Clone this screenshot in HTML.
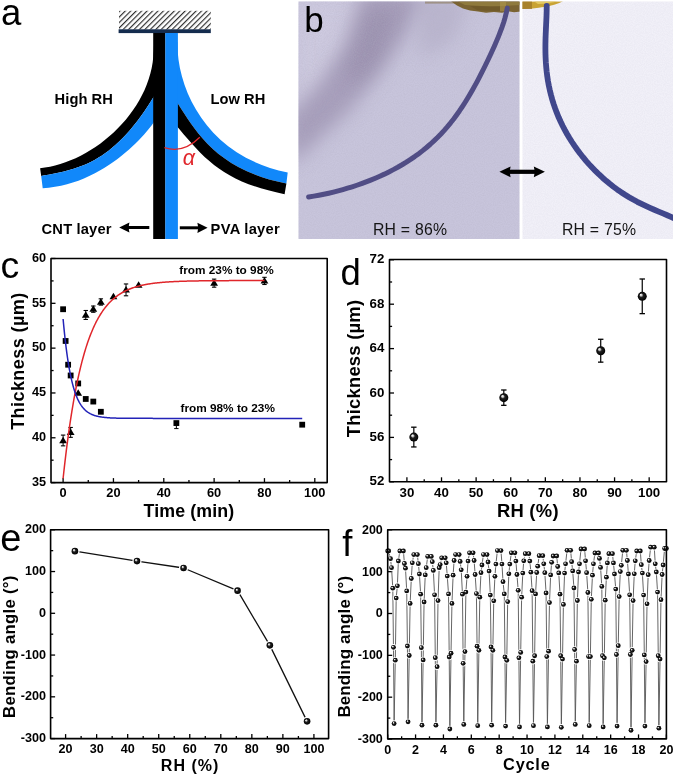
<!DOCTYPE html><html><head><meta charset="utf-8"><style>html,body{margin:0;padding:0;background:#fff;}body{width:675px;height:776px;overflow:hidden;position:relative;}svg{position:absolute;left:0;top:0;}text{font-family:"Liberation Sans", sans-serif;}svg{will-change:transform;}</style></head><body>
<svg width="675" height="776" viewBox="0 0 675 776">
<defs><radialGradient id="sph" cx="0.5" cy="0.5" r="0.5" fx="0.32" fy="0.3"><stop offset="0" stop-color="#ffffff"/><stop offset="0.22" stop-color="#c8c8c8"/><stop offset="0.45" stop-color="#202020"/><stop offset="1" stop-color="#000"/></radialGradient><pattern id="hatch" width="3.85" height="3.85" patternUnits="userSpaceOnUse" patternTransform="translate(119,11) rotate(45)"><line x1="0.6" y1="0" x2="0.6" y2="3.85" stroke="#2a2a2a" stroke-width="1.15"/></pattern><filter id="blur6" x="-50%" y="-50%" width="200%" height="200%"><feGaussianBlur stdDeviation="9"/></filter><filter id="blur1" x="-10%" y="-10%" width="120%" height="120%"><feGaussianBlur stdDeviation="0.6"/></filter><filter id="blur2" x="-50%" y="-50%" width="200%" height="200%"><feGaussianBlur stdDeviation="2"/></filter><clipPath id="clipL"><rect x="298.5" y="1.5" width="221" height="237.5"/></clipPath><clipPath id="clipR"><rect x="522.5" y="1.5" width="150.5" height="237.5"/></clipPath><clipPath id="clipC"><rect x="51" y="258.5" width="276" height="224"/></clipPath></defs>
<text x="1" y="24.6" font-size="36.5" font-weight="normal" text-anchor="start" fill="#000" >a</text>
<rect x="119" y="10.8" width="91.8" height="18.8" fill="url(#hatch)"/>
<rect x="118.6" y="29.3" width="92.2" height="3.8" fill="#142c4e"/>
<path d="M153.6,45 C156.18,108.01 93.82,163.2 40.1,168.2 L41.2,176 C81.37,169.01 114.77,162.3 156,93 Z" fill="#000"/>
<path d="M156,93 C114.77,162.3 81.37,169.01 41.2,176 L42.7,188.2 C110.94,184.77 157.62,120.08 156,118 Z" fill="#1188fa"/>
<path d="M177.4,42 C176.76,91.15 209.13,157.08 287.7,172.4 L286.4,183.5 C211.68,168.66 193.6,126.12 175,99.5 L175,42 Z" fill="#1188fa"/>
<path d="M175,99.5 C193.6,126.12 211.68,168.66 286.4,183.5 L284.6,194.3 C221.91,181.41 204.34,158.77 175,124 Z" fill="#000"/>
<rect x="153.2" y="33" width="12.2" height="206" fill="#000"/>
<rect x="165.3" y="33" width="12.6" height="206" fill="#1188fa"/>
<path d="M164.4,147.6 Q183,154 199.8,137.3" fill="none" stroke="#e0262b" stroke-width="1.3"/>
<text x="182.8" y="165.2" font-size="21.5" font-weight="normal" text-anchor="start" fill="#e0262b" font-style="italic">&#945;</text>
<text x="54.6" y="103.5" font-size="14.7" font-weight="bold" text-anchor="start" fill="#000"  textLength="58.2" lengthAdjust="spacing">High RH</text>
<text x="210.4" y="103.5" font-size="14.7" font-weight="bold" text-anchor="start" fill="#000"  textLength="54.9" lengthAdjust="spacing">Low RH</text>
<text x="41.6" y="233.5" font-size="14.7" font-weight="bold" text-anchor="start" fill="#000"  textLength="69.9" lengthAdjust="spacing">CNT layer</text>
<text x="210.6" y="233.5" font-size="14.7" font-weight="bold" text-anchor="start" fill="#000"  textLength="69.1" lengthAdjust="spacing">PVA layer</text>
<line x1="127" y1="227.5" x2="149.3" y2="227.5" stroke="#000" stroke-width="3"/>
<polygon points="119.2,227.5 129.4,222.4 128.6,227.5 129.4,232.6" fill="#000"/>
<line x1="179.8" y1="227.8" x2="200" y2="227.8" stroke="#000" stroke-width="3"/>
<polygon points="207.6,227.8 197.4,222.7 198.2,227.8 197.4,232.9" fill="#000"/>
<filter id="grain" x="0" y="0" width="100%" height="100%"><feTurbulence type="fractalNoise" baseFrequency="0.9" numOctaves="2" seed="3" result="n"/><feColorMatrix in="n" type="matrix" values="0 0 0 0 0.45  0 0 0 0 0.43  0 0 0 0 0.55  0 0 0 0.5 -0.15"/></filter>
<filter id="fib" x="-20%" y="-20%" width="140%" height="140%"><feTurbulence type="fractalNoise" baseFrequency="0.8" numOctaves="1" seed="5" result="n"/><feDisplacementMap in="SourceGraphic" in2="n" scale="1.6" xChannelSelector="R" yChannelSelector="G" result="d"/><feGaussianBlur in="d" stdDeviation="0.45"/></filter>
<g clip-path="url(#clipL)">
<rect x="298" y="0" width="223" height="240" fill="#c8c5dc"/>
<path d="M298,0 L380,0 L355,50 L298,115 Z" fill="#d0cce1" opacity="0.7" filter="url(#blur6)"/>
<path d="M362,-8 L425,-8 L405,35 L378,75 L350,110 L318,140 L292,165 L286,120 L318,85 L345,45 Z" fill="#9a8fae" opacity="0.75" filter="url(#blur6)"/>
<path d="M368,10 L398,10 L380,60 L355,85 L345,70 Z" fill="#8f84a3" opacity="0.45" filter="url(#blur6)"/>
<path d="M415,-5 L470,-5 L455,40 L420,60 Z" fill="#b0aac4" opacity="0.6" filter="url(#blur6)"/>
<rect x="298" y="0" width="223" height="240" filter="url(#grain)"/>
<rect x="425" y="1.2" width="96" height="2.4" fill="#8c7a58" opacity="0.6" filter="url(#blur1)"/>
<path d="M451,1.2 L521,1.2 L521,11.5 L514,12.2 L508,11.2 L502,12.8 L494,12 L486,12.8 L478,11.6 L470,10.4 L463,8.6 L457,5.5 Z" fill="#7a6430" filter="url(#blur1)"/>
<path d="M458,1.5 L521,1.5 L521,5 L490,6.5 L465,5 Z" fill="#95803f" opacity="0.8" filter="url(#blur1)"/>
<path d="M470,6 L500,6.5 L500,11 L478,10.5 Z" fill="#6a5426" opacity="0.6" filter="url(#blur1)"/>
<rect x="500" y="1.2" width="6" height="10" fill="#b39a50" opacity="0.5" filter="url(#blur1)"/>
<path d="M507.24,8.13 L506.26,12.96 L505.05,17.72 L503.63,22.43 L502.05,27.09 L500.34,31.72 L498.53,36.33 L496.62,40.9 L494.65,45.46 L492.62,50 L490.54,54.53 L488.41,59.04 L486.25,63.53 L484.06,68.01 L481.83,72.46 L479.55,76.89 L477.24,81.29 L474.88,85.66 L472.47,90 L470,94.3 L467.47,98.55 L464.87,102.75 L462.19,106.89 L459.44,110.97 L456.59,114.99 L453.66,118.94 L450.63,122.82 L447.5,126.61 L444.26,130.32 L440.93,133.94 L437.48,137.48 L433.94,140.91 L430.29,144.25 L426.53,147.49 L422.68,150.63 L418.73,153.66 L414.69,156.59 L410.57,159.42 L406.36,162.13 L402.08,164.75 L397.74,167.25 L393.34,169.65 L388.88,171.94 L384.39,174.14 L379.85,176.23 L375.29,178.22 L370.7,180.12 L366.1,181.92 L361.48,183.63 L356.84,185.25 L352.2,186.78 L347.54,188.23 L342.86,189.6 L338.16,190.88 L333.43,192.09 L328.65,193.22 L323.81,194.27 L318.87,195.25 L313.83,196.16 L308.64,196.99" fill="none" stroke="#514e85" stroke-width="5" stroke-linecap="round" stroke-linejoin="round" filter="url(#blur1)"/>
</g>
<g clip-path="url(#clipR)">
<rect x="522" y="0" width="152" height="240" fill="#f1f0f8"/>
<rect x="522" y="0" width="152" height="240" filter="url(#grain)" opacity="0.35"/>
<path d="M522,1.2 L563,1.2 Q556,5 545,6.8 Q532,9 522,9 Z" fill="#c9a335" filter="url(#blur1)"/>
<path d="M522,1.2 L532,1.2 L532,9 L522,9 Z" fill="#a17a2a" opacity="0.8" filter="url(#blur1)"/>
<path d="M534,1.2 L558,1.2 Q550,3.5 538,4 Z" fill="#e3c862" filter="url(#blur1)"/>
<path d="M546.71,5.94 L546.65,10.8 L546.51,15.57 L546.32,20.27 L546.1,24.94 L545.89,29.6 L545.69,34.25 L545.53,38.91 L545.43,43.58 L545.4,48.26 L545.45,52.96 L545.6,57.67 L545.85,62.39 L546.21,67.11 L546.69,71.82 L547.29,76.52 L548.02,81.2 L548.89,85.85 L549.88,90.47 L551.01,95.06 L552.27,99.61 L553.67,104.1 L555.19,108.55 L556.85,112.94 L558.64,117.28 L560.56,121.56 L562.6,125.78 L564.76,129.93 L567.04,134.02 L569.43,138.05 L571.94,142.01 L574.55,145.91 L577.28,149.74 L580.1,153.5 L583.03,157.19 L586.05,160.81 L589.17,164.35 L592.38,167.82 L595.68,171.2 L599.07,174.49 L602.55,177.7 L606.11,180.81 L609.74,183.82 L613.46,186.73 L617.26,189.52 L621.13,192.21 L625.07,194.78 L629.07,197.23 L633.15,199.57 L637.28,201.79 L641.46,203.9 L645.69,205.92 L649.96,207.85 L654.26,209.72 L658.58,211.55 L662.91,213.37 L667.24,215.23 L671.54,217.18 L675.81,219.27 L680.01,221.59" fill="none" stroke="#41468c" stroke-width="5.8" stroke-linecap="round" stroke-linejoin="round" filter="url(#blur1)"/>
</g>
<text x="304.2" y="31.5" font-size="35" font-weight="normal" text-anchor="start" fill="#000" >b</text>
<text x="372.9" y="234.5" font-size="15.8" font-weight="normal" text-anchor="start" fill="#151515"  textLength="74.2" lengthAdjust="spacing">RH = 86%</text>
<text x="561.9" y="234.8" font-size="15.8" font-weight="normal" text-anchor="start" fill="#151515"  textLength="74.2" lengthAdjust="spacing">RH = 75%</text>
<line x1="508" y1="171.8" x2="536.5" y2="171.8" stroke="#000" stroke-width="4.2"/>
<polygon points="499.4,171.8 510.6,166.4 509.6,171.8 510.6,177.2" fill="#000"/>
<polygon points="544.9,171.8 533.8,166.4 534.8,171.8 533.8,177.2" fill="#000"/>
<text x="0.6" y="277.7" font-size="37.5" font-weight="normal" text-anchor="start" fill="#000" >c</text>
<line x1="63.1" y1="482.6" x2="63.1" y2="478.1" stroke="#000" stroke-width="1.3" />
<line x1="113.44" y1="482.6" x2="113.44" y2="478.1" stroke="#000" stroke-width="1.3" />
<line x1="163.78" y1="482.6" x2="163.78" y2="478.1" stroke="#000" stroke-width="1.3" />
<line x1="214.12" y1="482.6" x2="214.12" y2="478.1" stroke="#000" stroke-width="1.3" />
<line x1="264.46" y1="482.6" x2="264.46" y2="478.1" stroke="#000" stroke-width="1.3" />
<line x1="314.8" y1="482.6" x2="314.8" y2="478.1" stroke="#000" stroke-width="1.3" />
<line x1="88.27" y1="482.6" x2="88.27" y2="480" stroke="#000" stroke-width="1.3" />
<line x1="138.61" y1="482.6" x2="138.61" y2="480" stroke="#000" stroke-width="1.3" />
<line x1="188.95" y1="482.6" x2="188.95" y2="480" stroke="#000" stroke-width="1.3" />
<line x1="239.29" y1="482.6" x2="239.29" y2="480" stroke="#000" stroke-width="1.3" />
<line x1="289.63" y1="482.6" x2="289.63" y2="480" stroke="#000" stroke-width="1.3" />
<text x="63.1" y="496.9" font-size="12.8" font-weight="bold" text-anchor="middle" fill="#000" >0</text>
<text x="113.44" y="496.9" font-size="12.8" font-weight="bold" text-anchor="middle" fill="#000" >20</text>
<text x="163.78" y="496.9" font-size="12.8" font-weight="bold" text-anchor="middle" fill="#000" >40</text>
<text x="214.12" y="496.9" font-size="12.8" font-weight="bold" text-anchor="middle" fill="#000" >60</text>
<text x="264.46" y="496.9" font-size="12.8" font-weight="bold" text-anchor="middle" fill="#000" >80</text>
<text x="314.8" y="496.9" font-size="12.8" font-weight="bold" text-anchor="middle" fill="#000" >100</text>
<line x1="51" y1="482.6" x2="55.5" y2="482.6" stroke="#000" stroke-width="1.3" />
<line x1="51" y1="437.78" x2="55.5" y2="437.78" stroke="#000" stroke-width="1.3" />
<line x1="51" y1="392.96" x2="55.5" y2="392.96" stroke="#000" stroke-width="1.3" />
<line x1="51" y1="348.14" x2="55.5" y2="348.14" stroke="#000" stroke-width="1.3" />
<line x1="51" y1="303.32" x2="55.5" y2="303.32" stroke="#000" stroke-width="1.3" />
<line x1="51" y1="258.5" x2="55.5" y2="258.5" stroke="#000" stroke-width="1.3" />
<line x1="51" y1="460.19" x2="53.6" y2="460.19" stroke="#000" stroke-width="1.3" />
<line x1="51" y1="415.37" x2="53.6" y2="415.37" stroke="#000" stroke-width="1.3" />
<line x1="51" y1="370.55" x2="53.6" y2="370.55" stroke="#000" stroke-width="1.3" />
<line x1="51" y1="325.73" x2="53.6" y2="325.73" stroke="#000" stroke-width="1.3" />
<line x1="51" y1="280.91" x2="53.6" y2="280.91" stroke="#000" stroke-width="1.3" />
<text x="46" y="485.85" font-size="12.7" font-weight="bold" text-anchor="end" fill="#000" >35</text>
<text x="46" y="441.03" font-size="12.7" font-weight="bold" text-anchor="end" fill="#000" >40</text>
<text x="46" y="396.21" font-size="12.7" font-weight="bold" text-anchor="end" fill="#000" >45</text>
<text x="46" y="351.39" font-size="12.7" font-weight="bold" text-anchor="end" fill="#000" >50</text>
<text x="46" y="306.57" font-size="12.7" font-weight="bold" text-anchor="end" fill="#000" >55</text>
<text x="46" y="261.75" font-size="12.7" font-weight="bold" text-anchor="end" fill="#000" >60</text>
<line x1="176.37" y1="423.08" x2="176.37" y2="428.58" stroke="#000" stroke-width="1" />
<line x1="174.17" y1="428.58" x2="178.56" y2="428.58" stroke="#000" stroke-width="1" />
<line x1="63.1" y1="435.09" x2="63.1" y2="445.85" stroke="#000" stroke-width="1" />
<line x1="60.9" y1="445.85" x2="65.3" y2="445.85" stroke="#000" stroke-width="1.1" />
<line x1="60.9" y1="435.09" x2="65.3" y2="435.09" stroke="#000" stroke-width="1.1" />
<line x1="70.65" y1="427.47" x2="70.65" y2="437.33" stroke="#000" stroke-width="1" />
<line x1="68.45" y1="437.33" x2="72.85" y2="437.33" stroke="#000" stroke-width="1.1" />
<line x1="68.45" y1="427.47" x2="72.85" y2="427.47" stroke="#000" stroke-width="1.1" />
<line x1="85.75" y1="310.49" x2="85.75" y2="319.46" stroke="#000" stroke-width="1" />
<line x1="83.55" y1="319.46" x2="87.95" y2="319.46" stroke="#000" stroke-width="1.1" />
<line x1="83.55" y1="310.49" x2="87.95" y2="310.49" stroke="#000" stroke-width="1.1" />
<line x1="93.3" y1="306.01" x2="93.3" y2="312.28" stroke="#000" stroke-width="1" />
<line x1="91.1" y1="312.28" x2="95.5" y2="312.28" stroke="#000" stroke-width="1.1" />
<line x1="91.1" y1="306.01" x2="95.5" y2="306.01" stroke="#000" stroke-width="1.1" />
<line x1="100.85" y1="298.84" x2="100.85" y2="305.11" stroke="#000" stroke-width="1" />
<line x1="98.65" y1="305.11" x2="103.05" y2="305.11" stroke="#000" stroke-width="1.1" />
<line x1="98.65" y1="298.84" x2="103.05" y2="298.84" stroke="#000" stroke-width="1.1" />
<line x1="126.03" y1="283.96" x2="126.03" y2="295.79" stroke="#000" stroke-width="1" />
<line x1="123.83" y1="295.79" x2="128.22" y2="295.79" stroke="#000" stroke-width="1.1" />
<line x1="123.83" y1="283.96" x2="128.22" y2="283.96" stroke="#000" stroke-width="1.1" />
<line x1="214.12" y1="279.12" x2="214.12" y2="287.18" stroke="#000" stroke-width="1" />
<line x1="211.92" y1="287.18" x2="216.32" y2="287.18" stroke="#000" stroke-width="1.1" />
<line x1="211.92" y1="279.12" x2="216.32" y2="279.12" stroke="#000" stroke-width="1.1" />
<line x1="264.46" y1="277.32" x2="264.46" y2="284.5" stroke="#000" stroke-width="1" />
<line x1="262.26" y1="284.5" x2="266.66" y2="284.5" stroke="#000" stroke-width="1.1" />
<line x1="262.26" y1="277.32" x2="266.66" y2="277.32" stroke="#000" stroke-width="1.1" />
<rect x="60.2" y="306.34" width="5.8" height="5.8" fill="#000"/>
<rect x="62.72" y="338.07" width="5.8" height="5.8" fill="#000"/>
<rect x="65.23" y="361.82" width="5.8" height="5.8" fill="#000"/>
<rect x="67.75" y="372.58" width="5.8" height="5.8" fill="#000"/>
<rect x="75.3" y="380.56" width="5.8" height="5.8" fill="#000"/>
<rect x="82.85" y="396.07" width="5.8" height="5.8" fill="#000"/>
<rect x="90.4" y="398.67" width="5.8" height="5.8" fill="#000"/>
<rect x="97.95" y="408.88" width="5.8" height="5.8" fill="#000"/>
<rect x="173.47" y="420.18" width="5.8" height="5.8" fill="#000"/>
<rect x="299.31" y="421.79" width="5.8" height="5.8" fill="#000"/>
<polygon points="63.1,436.67 59.2,443.17 67,443.17" fill="#000"/>
<polygon points="70.65,428.6 66.75,435.1 74.55,435.1" fill="#000"/>
<polygon points="78.2,389.16 74.3,395.66 82.1,395.66" fill="#000"/>
<polygon points="85.75,311.17 81.85,317.67 89.65,317.67" fill="#000"/>
<polygon points="93.3,305.35 89.4,311.85 97.2,311.85" fill="#000"/>
<polygon points="100.85,298.18 96.95,304.68 104.75,304.68" fill="#000"/>
<polygon points="113.44,292.8 109.54,299.3 117.34,299.3" fill="#000"/>
<polygon points="126.03,286.07 122.12,292.57 129.93,292.57" fill="#000"/>
<polygon points="138.61,281.14 134.71,287.64 142.51,287.64" fill="#000"/>
<polygon points="214.12,279.35 210.22,285.85 218.02,285.85" fill="#000"/>
<polygon points="264.46,277.11 260.56,283.61 268.36,283.61" fill="#000"/>
<g clip-path="url(#clipC)">
<polyline fill="none" stroke="#e0262b" stroke-width="1.5" stroke-linejoin="round"  points="63.1,478.54 63.73,472.73 64.36,467.1 64.99,461.63 65.62,456.32 66.25,451.17 66.88,446.17 67.5,441.31 68.13,436.6 68.76,432.02 69.39,427.58 70.02,423.27 70.65,419.09 71.28,415.03 71.91,411.08 72.54,407.26 73.17,403.54 73.8,399.94 74.43,396.44 75.06,393.04 75.69,389.74 76.31,386.54 76.94,383.43 77.57,380.42 78.2,377.49 78.83,374.65 79.46,371.89 80.09,369.21 80.72,366.61 81.35,364.09 81.98,361.64 82.61,359.26 83.24,356.95 83.87,354.71 84.49,352.54 85.12,350.43 85.75,348.38 86.38,346.39 87.01,344.46 87.64,342.59 88.27,340.77 88.9,339 89.53,337.29 90.16,335.63 90.79,334.01 91.42,332.44 92.05,330.92 92.67,329.45 93.3,328.01 93.93,326.62 94.56,325.27 95.19,323.96 95.82,322.69 96.45,321.45 97.08,320.25 97.71,319.09 98.34,317.96 98.97,316.86 99.6,315.8 100.23,314.76 100.85,313.76 101.48,312.79 102.11,311.84 102.74,310.92 103.37,310.03 104,309.17 104.63,308.33 105.26,307.52 105.89,306.72 106.52,305.96 107.15,305.21 107.78,304.49 108.41,303.79 109.04,303.11 109.66,302.44 110.29,301.8 110.92,301.18 111.55,300.57 112.18,299.99 112.81,299.42 113.44,298.86 114.07,298.33 114.7,297.81 115.33,297.3 115.96,296.81 116.59,296.33 117.22,295.87 117.84,295.42 118.47,294.98 119.1,294.56 119.73,294.15 120.36,293.75 120.99,293.36 121.62,292.99 122.25,292.62 122.88,292.27 123.51,291.93 124.14,291.59 124.77,291.27 125.4,290.95 126.03,290.65 126.65,290.35 127.28,290.07 127.91,289.79 128.54,289.52 129.17,289.25 129.8,289 130.43,288.75 131.06,288.51 131.69,288.28 132.32,288.05 132.95,287.83 133.58,287.62 134.21,287.41 134.83,287.21 135.46,287.01 136.09,286.82 136.72,286.64 137.35,286.46 137.98,286.29 138.61,286.12 139.24,285.95 139.87,285.8 140.5,285.64 141.13,285.49 141.76,285.35 142.39,285.21 143.01,285.07 143.64,284.94 144.27,284.81 144.9,284.68 145.53,284.56 146.16,284.44 146.79,284.33 147.42,284.22 148.05,284.11 148.68,284.01 149.31,283.91 149.94,283.81 150.57,283.71 151.19,283.62 151.82,283.53 152.45,283.44 153.08,283.36 153.71,283.27 154.34,283.19 154.97,283.12 155.6,283.04 156.23,282.97 156.86,282.9 157.49,282.83 158.12,282.76 158.75,282.7 159.38,282.63 160,282.57 160.63,282.51 161.26,282.46 161.89,282.4 162.52,282.34 163.15,282.29 163.78,282.24 164.41,282.19 165.04,282.14 165.67,282.1 166.3,282.05 166.93,282.01 167.56,281.96 168.18,281.92 168.81,281.88 169.44,281.84 170.07,281.8 170.7,281.77 171.33,281.73 171.96,281.7 172.59,281.66 173.22,281.63 173.85,281.6 174.48,281.57 175.11,281.54 175.74,281.51 176.37,281.48 176.99,281.45 177.62,281.43 178.25,281.4 178.88,281.38 179.51,281.35 180.14,281.33 180.77,281.31 181.4,281.28 182.03,281.26 182.66,281.24 183.29,281.22 183.92,281.2 184.55,281.18 185.17,281.16 185.8,281.14 186.43,281.13 187.06,281.11 187.69,281.09 188.32,281.08 188.95,281.06 189.58,281.05 190.21,281.03 190.84,281.02 191.47,281 192.1,280.99 192.73,280.98 193.35,280.96 193.98,280.95 194.61,280.94 195.24,280.93 195.87,280.92 196.5,280.91 197.13,280.9 197.76,280.89 198.39,280.88 199.02,280.87 199.65,280.86 200.28,280.85 200.91,280.84 201.53,280.83 202.16,280.82 202.79,280.81 203.42,280.81 204.05,280.8 204.68,280.79 205.31,280.78 205.94,280.78 206.57,280.77 207.2,280.76 207.83,280.76 208.46,280.75 209.09,280.75 209.72,280.74 210.34,280.73 210.97,280.73 211.6,280.72 212.23,280.72 212.86,280.71 213.49,280.71 214.12,280.7 214.75,280.7 215.38,280.69 216.01,280.69 216.64,280.69 217.27,280.68 217.9,280.68 218.52,280.67 219.15,280.67 219.78,280.67 220.41,280.66 221.04,280.66 221.67,280.66 222.3,280.65 222.93,280.65 223.56,280.65 224.19,280.64 224.82,280.64 225.45,280.64 226.08,280.64 226.7,280.63 227.33,280.63 227.96,280.63 228.59,280.63 229.22,280.62 229.85,280.62 230.48,280.62 231.11,280.62 231.74,280.61 232.37,280.61 233,280.61 233.63,280.61 234.26,280.61 234.89,280.6 235.51,280.6 236.14,280.6 236.77,280.6 237.4,280.6 238.03,280.6 238.66,280.6 239.29,280.59 239.92,280.59 240.55,280.59 241.18,280.59 241.81,280.59 242.44,280.59 243.07,280.59 243.69,280.58 244.32,280.58 244.95,280.58 245.58,280.58 246.21,280.58 246.84,280.58 247.47,280.58 248.1,280.58 248.73,280.58 249.36,280.58 249.99,280.57 250.62,280.57 251.25,280.57 251.88,280.57 252.5,280.57 253.13,280.57 253.76,280.57 254.39,280.57 255.02,280.57 255.65,280.57 256.28,280.57 256.91,280.57 257.54,280.57 258.17,280.57 258.8,280.57 259.43,280.56 260.06,280.56 260.68,280.56 261.31,280.56 261.94,280.56 262.57,280.56 263.2,280.56 263.83,280.56 264.46,280.56"/>
<polyline fill="none" stroke="#2323b8" stroke-width="1.5" stroke-linejoin="round"  points="63.1,319 63.73,325.78 64.36,332.1 64.99,337.98 65.62,343.46 66.25,348.57 66.88,353.34 67.5,357.77 68.13,361.91 68.76,365.76 69.39,369.35 70.02,372.69 70.65,375.81 71.28,378.71 71.91,381.42 72.54,383.94 73.17,386.29 73.8,388.48 74.43,390.52 75.06,392.42 75.69,394.19 76.31,395.84 76.94,397.38 77.57,398.81 78.2,400.14 78.83,401.39 79.46,402.55 80.09,403.63 80.72,404.63 81.35,405.57 81.98,406.44 82.61,407.26 83.24,408.02 83.87,408.72 84.49,409.38 85.12,410 85.75,410.57 86.38,411.1 87.01,411.6 87.64,412.06 88.27,412.49 88.9,412.89 89.53,413.27 90.16,413.62 90.79,413.94 91.42,414.24 92.05,414.53 92.67,414.79 93.3,415.03 93.93,415.26 94.56,415.47 95.19,415.67 95.82,415.86 96.45,416.03 97.08,416.19 97.71,416.34 98.34,416.48 98.97,416.61 99.6,416.73 100.23,416.84 100.85,416.95 101.48,417.04 102.11,417.13 102.74,417.22 103.37,417.3 104,417.37 104.63,417.44 105.26,417.51 105.89,417.56 106.52,417.62 107.15,417.67 107.78,417.72 108.41,417.77 109.04,417.81 109.66,417.85 110.29,417.88 110.92,417.92 111.55,417.95 112.18,417.98 112.81,418 113.44,418.03 114.07,418.05 114.7,418.08 115.33,418.1 115.96,418.12 116.59,418.13 117.22,418.15 117.84,418.17 118.47,418.18 119.1,418.19 119.73,418.21 120.36,418.22 120.99,418.23 121.62,418.24 122.25,418.25 122.88,418.26 123.51,418.27 124.14,418.27 124.77,418.28 125.4,418.29 126.03,418.29 126.65,418.3 127.28,418.31 127.91,418.31 128.54,418.32 129.17,418.32 129.8,418.32 130.43,418.33 131.06,418.33 131.69,418.33 132.32,418.34 132.95,418.34 133.58,418.34 134.21,418.35 134.83,418.35 135.46,418.35 136.09,418.35 136.72,418.35 137.35,418.36 137.98,418.36 138.61,418.36 139.24,418.36 139.87,418.36 140.5,418.36 141.13,418.36 141.76,418.36 142.39,418.37 143.01,418.37 143.64,418.37 144.27,418.37 144.9,418.37 145.53,418.37 146.16,418.37 146.79,418.37 147.42,418.37 148.05,418.37 148.68,418.37 149.31,418.37 149.94,418.37 150.57,418.37 151.19,418.37 151.82,418.37 152.45,418.37 153.08,418.38 153.71,418.38 154.34,418.38 154.97,418.38 155.6,418.38 156.23,418.38 156.86,418.38 157.49,418.38 158.12,418.38 158.75,418.38 159.38,418.38 160,418.38 160.63,418.38 161.26,418.38 161.89,418.38 162.52,418.38 163.15,418.38 163.78,418.38 164.41,418.38 165.04,418.38 165.67,418.38 166.3,418.38 166.93,418.38 167.56,418.38 168.18,418.38 168.81,418.38 169.44,418.38 170.07,418.38 170.7,418.38 171.33,418.38 171.96,418.38 172.59,418.38 173.22,418.38 173.85,418.38 174.48,418.38 175.11,418.38 175.74,418.38 176.37,418.38 176.99,418.38 177.62,418.38 178.25,418.38 178.88,418.38 179.51,418.38 180.14,418.38 180.77,418.38 181.4,418.38 182.03,418.38 182.66,418.38 183.29,418.38 183.92,418.38 184.55,418.38 185.17,418.38 185.8,418.38 186.43,418.38 187.06,418.38 187.69,418.38 188.32,418.38 188.95,418.38 189.58,418.38 190.21,418.38 190.84,418.38 191.47,418.38 192.1,418.38 192.73,418.38 193.35,418.38 193.98,418.38 194.61,418.38 195.24,418.38 195.87,418.38 196.5,418.38 197.13,418.38 197.76,418.38 198.39,418.38 199.02,418.38 199.65,418.38 200.28,418.38 200.91,418.38 201.53,418.38 202.16,418.38 202.79,418.38 203.42,418.38 204.05,418.38 204.68,418.38 205.31,418.38 205.94,418.38 206.57,418.38 207.2,418.38 207.83,418.38 208.46,418.38 209.09,418.38 209.72,418.38 210.34,418.38 210.97,418.38 211.6,418.38 212.23,418.38 212.86,418.38 213.49,418.38 214.12,418.38 214.75,418.38 215.38,418.38 216.01,418.38 216.64,418.38 217.27,418.38 217.9,418.38 218.52,418.38 219.15,418.38 219.78,418.38 220.41,418.38 221.04,418.38 221.67,418.38 222.3,418.38 222.93,418.38 223.56,418.38 224.19,418.38 224.82,418.38 225.45,418.38 226.08,418.38 226.7,418.38 227.33,418.38 227.96,418.38 228.59,418.38 229.22,418.38 229.85,418.38 230.48,418.38 231.11,418.38 231.74,418.38 232.37,418.38 233,418.38 233.63,418.38 234.26,418.38 234.89,418.38 235.51,418.38 236.14,418.38 236.77,418.38 237.4,418.38 238.03,418.38 238.66,418.38 239.29,418.38 239.92,418.38 240.55,418.38 241.18,418.38 241.81,418.38 242.44,418.38 243.07,418.38 243.69,418.38 244.32,418.38 244.95,418.38 245.58,418.38 246.21,418.38 246.84,418.38 247.47,418.38 248.1,418.38 248.73,418.38 249.36,418.38 249.99,418.38 250.62,418.38 251.25,418.38 251.88,418.38 252.5,418.38 253.13,418.38 253.76,418.38 254.39,418.38 255.02,418.38 255.65,418.38 256.28,418.38 256.91,418.38 257.54,418.38 258.17,418.38 258.8,418.38 259.43,418.38 260.06,418.38 260.68,418.38 261.31,418.38 261.94,418.38 262.57,418.38 263.2,418.38 263.83,418.38 264.46,418.38 265.09,418.38 265.72,418.38 266.35,418.38 266.98,418.38 267.61,418.38 268.24,418.38 268.86,418.38 269.49,418.38 270.12,418.38 270.75,418.38 271.38,418.38 272.01,418.38 272.64,418.38 273.27,418.38 273.9,418.38 274.53,418.38 275.16,418.38 275.79,418.38 276.42,418.38 277.05,418.38 277.67,418.38 278.3,418.38 278.93,418.38 279.56,418.38 280.19,418.38 280.82,418.38 281.45,418.38 282.08,418.38 282.71,418.38 283.34,418.38 283.97,418.38 284.6,418.38 285.23,418.38 285.85,418.38 286.48,418.38 287.11,418.38 287.74,418.38 288.37,418.38 289,418.38 289.63,418.38 290.26,418.38 290.89,418.38 291.52,418.38 292.15,418.38 292.78,418.38 293.41,418.38 294.03,418.38 294.66,418.38 295.29,418.38 295.92,418.38 296.55,418.38 297.18,418.38 297.81,418.38 298.44,418.38 299.07,418.38 299.7,418.38 300.33,418.38 300.96,418.38 301.59,418.38 302.21,418.38"/>
</g>
<rect x="51" y="258.5" width="276.2" height="224.1" fill="none" stroke="#000" stroke-width="1.6" stroke-linejoin="round"/>
<text x="179.3" y="274.4" font-size="11.8" font-weight="bold" text-anchor="start" fill="#000" >from 23% to 98%</text>
<text x="180.5" y="412.1" font-size="11.8" font-weight="bold" text-anchor="start" fill="#000" >from 98% to 23%</text>
<text x="143.5" y="516.6" font-size="17.8" font-weight="bold" text-anchor="start" fill="#000"  textLength="90.6" lengthAdjust="spacing">Time (min)</text>
<text transform="translate(23.9,429.8) rotate(-90)" x="0" y="0" font-size="18" font-weight="bold" textLength="137" lengthAdjust="spacing">Thickness (&#181;m)</text>
<text x="340.5" y="285.2" font-size="36.5" font-weight="normal" text-anchor="start" fill="#000" >d</text>
<line x1="406.91" y1="481.8" x2="406.91" y2="477.3" stroke="#000" stroke-width="1.3" />
<line x1="441.52" y1="481.8" x2="441.52" y2="477.3" stroke="#000" stroke-width="1.3" />
<line x1="476.12" y1="481.8" x2="476.12" y2="477.3" stroke="#000" stroke-width="1.3" />
<line x1="510.74" y1="481.8" x2="510.74" y2="477.3" stroke="#000" stroke-width="1.3" />
<line x1="545.35" y1="481.8" x2="545.35" y2="477.3" stroke="#000" stroke-width="1.3" />
<line x1="579.96" y1="481.8" x2="579.96" y2="477.3" stroke="#000" stroke-width="1.3" />
<line x1="614.57" y1="481.8" x2="614.57" y2="477.3" stroke="#000" stroke-width="1.3" />
<line x1="649.17" y1="481.8" x2="649.17" y2="477.3" stroke="#000" stroke-width="1.3" />
<line x1="424.21" y1="481.8" x2="424.21" y2="479.2" stroke="#000" stroke-width="1.3" />
<line x1="458.82" y1="481.8" x2="458.82" y2="479.2" stroke="#000" stroke-width="1.3" />
<line x1="493.43" y1="481.8" x2="493.43" y2="479.2" stroke="#000" stroke-width="1.3" />
<line x1="528.04" y1="481.8" x2="528.04" y2="479.2" stroke="#000" stroke-width="1.3" />
<line x1="562.65" y1="481.8" x2="562.65" y2="479.2" stroke="#000" stroke-width="1.3" />
<line x1="597.26" y1="481.8" x2="597.26" y2="479.2" stroke="#000" stroke-width="1.3" />
<line x1="631.87" y1="481.8" x2="631.87" y2="479.2" stroke="#000" stroke-width="1.3" />
<text x="406.91" y="497.3" font-size="13.3" font-weight="bold" text-anchor="middle" fill="#000" >30</text>
<text x="441.52" y="497.3" font-size="13.3" font-weight="bold" text-anchor="middle" fill="#000" >40</text>
<text x="476.12" y="497.3" font-size="13.3" font-weight="bold" text-anchor="middle" fill="#000" >50</text>
<text x="510.74" y="497.3" font-size="13.3" font-weight="bold" text-anchor="middle" fill="#000" >60</text>
<text x="545.35" y="497.3" font-size="13.3" font-weight="bold" text-anchor="middle" fill="#000" >70</text>
<text x="579.96" y="497.3" font-size="13.3" font-weight="bold" text-anchor="middle" fill="#000" >80</text>
<text x="614.57" y="497.3" font-size="13.3" font-weight="bold" text-anchor="middle" fill="#000" >90</text>
<text x="649.17" y="497.3" font-size="13.3" font-weight="bold" text-anchor="middle" fill="#000" >100</text>
<line x1="389.5" y1="481.8" x2="394" y2="481.8" stroke="#000" stroke-width="1.3" />
<line x1="389.5" y1="437.4" x2="394" y2="437.4" stroke="#000" stroke-width="1.3" />
<line x1="389.5" y1="393" x2="394" y2="393" stroke="#000" stroke-width="1.3" />
<line x1="389.5" y1="348.6" x2="394" y2="348.6" stroke="#000" stroke-width="1.3" />
<line x1="389.5" y1="304.2" x2="394" y2="304.2" stroke="#000" stroke-width="1.3" />
<line x1="389.5" y1="259.8" x2="394" y2="259.8" stroke="#000" stroke-width="1.3" />
<line x1="389.5" y1="459.6" x2="392.1" y2="459.6" stroke="#000" stroke-width="1.3" />
<line x1="389.5" y1="415.2" x2="392.1" y2="415.2" stroke="#000" stroke-width="1.3" />
<line x1="389.5" y1="370.8" x2="392.1" y2="370.8" stroke="#000" stroke-width="1.3" />
<line x1="389.5" y1="326.4" x2="392.1" y2="326.4" stroke="#000" stroke-width="1.3" />
<line x1="389.5" y1="282" x2="392.1" y2="282" stroke="#000" stroke-width="1.3" />
<text x="384.3" y="485.3" font-size="13.3" font-weight="bold" text-anchor="end" fill="#000" >52</text>
<text x="384.3" y="440.9" font-size="13.3" font-weight="bold" text-anchor="end" fill="#000" >56</text>
<text x="384.3" y="396.5" font-size="13.3" font-weight="bold" text-anchor="end" fill="#000" >60</text>
<text x="384.3" y="352.1" font-size="13.3" font-weight="bold" text-anchor="end" fill="#000" >64</text>
<text x="384.3" y="307.7" font-size="13.3" font-weight="bold" text-anchor="end" fill="#000" >68</text>
<text x="384.3" y="263.3" font-size="13.3" font-weight="bold" text-anchor="end" fill="#000" >72</text>
<line x1="413.83" y1="427.19" x2="413.83" y2="446.95" stroke="#000" stroke-width="1.2" />
<line x1="411.13" y1="427.19" x2="416.53" y2="427.19" stroke="#000" stroke-width="1.3" />
<line x1="411.13" y1="446.95" x2="416.53" y2="446.95" stroke="#000" stroke-width="1.3" />
<circle cx="413.83" cy="437.07" r="4.5" fill="url(#sph)"/>
<line x1="503.81" y1="390" x2="503.81" y2="405.32" stroke="#000" stroke-width="1.2" />
<line x1="501.11" y1="390" x2="506.51" y2="390" stroke="#000" stroke-width="1.3" />
<line x1="501.11" y1="405.32" x2="506.51" y2="405.32" stroke="#000" stroke-width="1.3" />
<circle cx="503.81" cy="397.66" r="4.5" fill="url(#sph)"/>
<line x1="600.72" y1="339.28" x2="600.72" y2="362.14" stroke="#000" stroke-width="1.2" />
<line x1="598.02" y1="339.28" x2="603.42" y2="339.28" stroke="#000" stroke-width="1.3" />
<line x1="598.02" y1="362.14" x2="603.42" y2="362.14" stroke="#000" stroke-width="1.3" />
<circle cx="600.72" cy="350.71" r="4.5" fill="url(#sph)"/>
<line x1="642.25" y1="279" x2="642.25" y2="313.64" stroke="#000" stroke-width="1.2" />
<line x1="639.55" y1="279" x2="644.95" y2="279" stroke="#000" stroke-width="1.3" />
<line x1="639.55" y1="313.64" x2="644.95" y2="313.64" stroke="#000" stroke-width="1.3" />
<circle cx="642.25" cy="296.32" r="4.5" fill="url(#sph)"/>
<rect x="389.5" y="259.5" width="277" height="222.3" fill="none" stroke="#000" stroke-width="1.6" stroke-linejoin="round"/>
<text x="496.9" y="516.7" font-size="18.4" font-weight="bold" text-anchor="start" fill="#000"  textLength="61.6" lengthAdjust="spacing">RH (%)</text>
<text transform="translate(359.8,437.3) rotate(-90)" x="0" y="0" font-size="18.4" font-weight="bold" textLength="137.4" lengthAdjust="spacing">Thickness (&#181;m)</text>
<text x="0.3" y="550.5" font-size="38" font-weight="normal" text-anchor="start" fill="#000" >e</text>
<line x1="65.6" y1="738.6" x2="65.6" y2="734.1" stroke="#000" stroke-width="1.3" />
<line x1="96.64" y1="738.6" x2="96.64" y2="734.1" stroke="#000" stroke-width="1.3" />
<line x1="127.68" y1="738.6" x2="127.68" y2="734.1" stroke="#000" stroke-width="1.3" />
<line x1="158.72" y1="738.6" x2="158.72" y2="734.1" stroke="#000" stroke-width="1.3" />
<line x1="189.76" y1="738.6" x2="189.76" y2="734.1" stroke="#000" stroke-width="1.3" />
<line x1="220.8" y1="738.6" x2="220.8" y2="734.1" stroke="#000" stroke-width="1.3" />
<line x1="251.84" y1="738.6" x2="251.84" y2="734.1" stroke="#000" stroke-width="1.3" />
<line x1="282.88" y1="738.6" x2="282.88" y2="734.1" stroke="#000" stroke-width="1.3" />
<line x1="313.92" y1="738.6" x2="313.92" y2="734.1" stroke="#000" stroke-width="1.3" />
<line x1="81.12" y1="738.6" x2="81.12" y2="736" stroke="#000" stroke-width="1.3" />
<line x1="112.16" y1="738.6" x2="112.16" y2="736" stroke="#000" stroke-width="1.3" />
<line x1="143.2" y1="738.6" x2="143.2" y2="736" stroke="#000" stroke-width="1.3" />
<line x1="174.24" y1="738.6" x2="174.24" y2="736" stroke="#000" stroke-width="1.3" />
<line x1="205.28" y1="738.6" x2="205.28" y2="736" stroke="#000" stroke-width="1.3" />
<line x1="236.32" y1="738.6" x2="236.32" y2="736" stroke="#000" stroke-width="1.3" />
<line x1="267.36" y1="738.6" x2="267.36" y2="736" stroke="#000" stroke-width="1.3" />
<line x1="298.4" y1="738.6" x2="298.4" y2="736" stroke="#000" stroke-width="1.3" />
<text x="65.6" y="753.3" font-size="12.6" font-weight="bold" text-anchor="middle" fill="#000" >20</text>
<text x="96.64" y="753.3" font-size="12.6" font-weight="bold" text-anchor="middle" fill="#000" >30</text>
<text x="127.68" y="753.3" font-size="12.6" font-weight="bold" text-anchor="middle" fill="#000" >40</text>
<text x="158.72" y="753.3" font-size="12.6" font-weight="bold" text-anchor="middle" fill="#000" >50</text>
<text x="189.76" y="753.3" font-size="12.6" font-weight="bold" text-anchor="middle" fill="#000" >60</text>
<text x="220.8" y="753.3" font-size="12.6" font-weight="bold" text-anchor="middle" fill="#000" >70</text>
<text x="251.84" y="753.3" font-size="12.6" font-weight="bold" text-anchor="middle" fill="#000" >80</text>
<text x="282.88" y="753.3" font-size="12.6" font-weight="bold" text-anchor="middle" fill="#000" >90</text>
<text x="313.92" y="753.3" font-size="12.6" font-weight="bold" text-anchor="middle" fill="#000" >100</text>
<line x1="50.6" y1="738.58" x2="55.1" y2="738.58" stroke="#000" stroke-width="1.3" />
<line x1="50.6" y1="696.82" x2="55.1" y2="696.82" stroke="#000" stroke-width="1.3" />
<line x1="50.6" y1="655.06" x2="55.1" y2="655.06" stroke="#000" stroke-width="1.3" />
<line x1="50.6" y1="613.3" x2="55.1" y2="613.3" stroke="#000" stroke-width="1.3" />
<line x1="50.6" y1="571.54" x2="55.1" y2="571.54" stroke="#000" stroke-width="1.3" />
<line x1="50.6" y1="529.78" x2="55.1" y2="529.78" stroke="#000" stroke-width="1.3" />
<line x1="50.6" y1="717.7" x2="53.2" y2="717.7" stroke="#000" stroke-width="1.3" />
<line x1="50.6" y1="675.94" x2="53.2" y2="675.94" stroke="#000" stroke-width="1.3" />
<line x1="50.6" y1="634.18" x2="53.2" y2="634.18" stroke="#000" stroke-width="1.3" />
<line x1="50.6" y1="592.42" x2="53.2" y2="592.42" stroke="#000" stroke-width="1.3" />
<line x1="50.6" y1="550.66" x2="53.2" y2="550.66" stroke="#000" stroke-width="1.3" />
<text x="46" y="742.08" font-size="12.6" font-weight="bold" text-anchor="end" fill="#000" >-300</text>
<text x="46" y="700.32" font-size="12.6" font-weight="bold" text-anchor="end" fill="#000" >-200</text>
<text x="46" y="658.56" font-size="12.6" font-weight="bold" text-anchor="end" fill="#000" >-100</text>
<text x="46" y="616.8" font-size="12.6" font-weight="bold" text-anchor="end" fill="#000" >0</text>
<text x="46" y="575.04" font-size="12.6" font-weight="bold" text-anchor="end" fill="#000" >100</text>
<text x="46" y="533.28" font-size="12.6" font-weight="bold" text-anchor="end" fill="#000" >200</text>
<polyline fill="none" stroke="#111" stroke-width="1.3" stroke-linejoin="round"  points="74.91,551.16 136.99,561.1 183.55,567.99 237.56,590.67 269.84,645.37 307.09,721.37"/>
<circle cx="74.91" cy="551.16" r="4.6" fill="#fff"/>
<circle cx="136.99" cy="561.1" r="4.6" fill="#fff"/>
<circle cx="183.55" cy="567.99" r="4.6" fill="#fff"/>
<circle cx="237.56" cy="590.67" r="4.6" fill="#fff"/>
<circle cx="269.84" cy="645.37" r="4.6" fill="#fff"/>
<circle cx="307.09" cy="721.37" r="4.6" fill="#fff"/>
<circle cx="74.91" cy="551.16" r="3.3" fill="url(#sph)"/>
<circle cx="136.99" cy="561.1" r="3.3" fill="url(#sph)"/>
<circle cx="183.55" cy="567.99" r="3.3" fill="url(#sph)"/>
<circle cx="237.56" cy="590.67" r="3.3" fill="url(#sph)"/>
<circle cx="269.84" cy="645.37" r="3.3" fill="url(#sph)"/>
<circle cx="307.09" cy="721.37" r="3.3" fill="url(#sph)"/>
<rect x="50.6" y="529.8" width="278" height="208.8" fill="none" stroke="#000" stroke-width="1.6" stroke-linejoin="round"/>
<text x="160.8" y="771" font-size="16" font-weight="bold" text-anchor="start" fill="#000"  textLength="57.6" lengthAdjust="spacing">RH (%)</text>
<text transform="translate(15,717.9) rotate(-90)" x="0" y="0" font-size="16.7" font-weight="bold" textLength="142.3" lengthAdjust="spacing">Bending angle (&#176;)</text>
<text x="342.3" y="556.1" font-size="36.5" font-weight="normal" text-anchor="start" fill="#000" >f</text>
<line x1="387.7" y1="738.9" x2="387.7" y2="734.4" stroke="#000" stroke-width="1.3" />
<line x1="415.57" y1="738.9" x2="415.57" y2="734.4" stroke="#000" stroke-width="1.3" />
<line x1="443.44" y1="738.9" x2="443.44" y2="734.4" stroke="#000" stroke-width="1.3" />
<line x1="471.31" y1="738.9" x2="471.31" y2="734.4" stroke="#000" stroke-width="1.3" />
<line x1="499.18" y1="738.9" x2="499.18" y2="734.4" stroke="#000" stroke-width="1.3" />
<line x1="527.05" y1="738.9" x2="527.05" y2="734.4" stroke="#000" stroke-width="1.3" />
<line x1="554.92" y1="738.9" x2="554.92" y2="734.4" stroke="#000" stroke-width="1.3" />
<line x1="582.79" y1="738.9" x2="582.79" y2="734.4" stroke="#000" stroke-width="1.3" />
<line x1="610.66" y1="738.9" x2="610.66" y2="734.4" stroke="#000" stroke-width="1.3" />
<line x1="638.53" y1="738.9" x2="638.53" y2="734.4" stroke="#000" stroke-width="1.3" />
<line x1="666.4" y1="738.9" x2="666.4" y2="734.4" stroke="#000" stroke-width="1.3" />
<line x1="401.63" y1="738.9" x2="401.63" y2="736.3" stroke="#000" stroke-width="1.3" />
<line x1="429.5" y1="738.9" x2="429.5" y2="736.3" stroke="#000" stroke-width="1.3" />
<line x1="457.38" y1="738.9" x2="457.38" y2="736.3" stroke="#000" stroke-width="1.3" />
<line x1="485.25" y1="738.9" x2="485.25" y2="736.3" stroke="#000" stroke-width="1.3" />
<line x1="513.12" y1="738.9" x2="513.12" y2="736.3" stroke="#000" stroke-width="1.3" />
<line x1="540.99" y1="738.9" x2="540.99" y2="736.3" stroke="#000" stroke-width="1.3" />
<line x1="568.86" y1="738.9" x2="568.86" y2="736.3" stroke="#000" stroke-width="1.3" />
<line x1="596.73" y1="738.9" x2="596.73" y2="736.3" stroke="#000" stroke-width="1.3" />
<line x1="624.6" y1="738.9" x2="624.6" y2="736.3" stroke="#000" stroke-width="1.3" />
<line x1="652.46" y1="738.9" x2="652.46" y2="736.3" stroke="#000" stroke-width="1.3" />
<text x="387.7" y="753.8" font-size="12.5" font-weight="bold" text-anchor="middle" fill="#000" >0</text>
<text x="415.57" y="753.8" font-size="12.5" font-weight="bold" text-anchor="middle" fill="#000" >2</text>
<text x="443.44" y="753.8" font-size="12.5" font-weight="bold" text-anchor="middle" fill="#000" >4</text>
<text x="471.31" y="753.8" font-size="12.5" font-weight="bold" text-anchor="middle" fill="#000" >6</text>
<text x="499.18" y="753.8" font-size="12.5" font-weight="bold" text-anchor="middle" fill="#000" >8</text>
<text x="527.05" y="753.8" font-size="12.5" font-weight="bold" text-anchor="middle" fill="#000" >10</text>
<text x="554.92" y="753.8" font-size="12.5" font-weight="bold" text-anchor="middle" fill="#000" >12</text>
<text x="582.79" y="753.8" font-size="12.5" font-weight="bold" text-anchor="middle" fill="#000" >14</text>
<text x="610.66" y="753.8" font-size="12.5" font-weight="bold" text-anchor="middle" fill="#000" >16</text>
<text x="638.53" y="753.8" font-size="12.5" font-weight="bold" text-anchor="middle" fill="#000" >18</text>
<text x="666.4" y="753.8" font-size="12.5" font-weight="bold" text-anchor="middle" fill="#000" >20</text>
<line x1="387.7" y1="739.02" x2="392.2" y2="739.02" stroke="#000" stroke-width="1.3" />
<line x1="387.7" y1="697.18" x2="392.2" y2="697.18" stroke="#000" stroke-width="1.3" />
<line x1="387.7" y1="655.34" x2="392.2" y2="655.34" stroke="#000" stroke-width="1.3" />
<line x1="387.7" y1="613.5" x2="392.2" y2="613.5" stroke="#000" stroke-width="1.3" />
<line x1="387.7" y1="571.66" x2="392.2" y2="571.66" stroke="#000" stroke-width="1.3" />
<line x1="387.7" y1="529.82" x2="392.2" y2="529.82" stroke="#000" stroke-width="1.3" />
<line x1="387.7" y1="718.1" x2="390.3" y2="718.1" stroke="#000" stroke-width="1.3" />
<line x1="387.7" y1="676.26" x2="390.3" y2="676.26" stroke="#000" stroke-width="1.3" />
<line x1="387.7" y1="634.42" x2="390.3" y2="634.42" stroke="#000" stroke-width="1.3" />
<line x1="387.7" y1="592.58" x2="390.3" y2="592.58" stroke="#000" stroke-width="1.3" />
<line x1="387.7" y1="550.74" x2="390.3" y2="550.74" stroke="#000" stroke-width="1.3" />
<text x="382.8" y="742.92" font-size="12.5" font-weight="bold" text-anchor="end" fill="#000" >-300</text>
<text x="382.8" y="701.08" font-size="12.5" font-weight="bold" text-anchor="end" fill="#000" >-200</text>
<text x="382.8" y="659.24" font-size="12.5" font-weight="bold" text-anchor="end" fill="#000" >-100</text>
<text x="382.8" y="617.4" font-size="12.5" font-weight="bold" text-anchor="end" fill="#000" >0</text>
<text x="382.8" y="575.56" font-size="12.5" font-weight="bold" text-anchor="end" fill="#000" >100</text>
<text x="382.8" y="533.72" font-size="12.5" font-weight="bold" text-anchor="end" fill="#000" >200</text>
<polyline fill="none" stroke="#555" stroke-width="0.9" stroke-linejoin="round"  points="387.7,550.99 388.68,550.99 390.49,558.69 391.53,567.69 392.79,588.19 393.48,647.31 394.11,723.54 395.29,660.19 396.2,598.1 397.38,585.8 398.36,560.99 399.85,550.99 403.42,550.99 404.42,563.5 405.47,568.19 406.72,590.91 407.42,646.01 408.05,721.87 409.23,655.51 410.14,603.42 411.32,578.52 412.3,562.79 413.79,554.59 417.35,554.59 418.36,563.71 419.4,574 420.66,594.21 421.35,647.64 421.98,725.21 423.16,659.94 424.07,601.99 425.25,574.88 426.23,567.69 427.72,556.39 431.29,556.39 432.29,561.7 433.34,570.4 434.59,594.8 435.29,657.72 435.92,725.21 437.1,666.72 438.01,600.61 439.19,567.69 440.17,564.59 441.66,557.81 445.22,557.81 446.23,562.79 447.27,576.1 448.53,593.92 449.22,657.01 449.85,728.98 451.03,653.25 451.94,603.42 453.12,575.22 454.1,560.49 455.59,554.59 459.16,554.59 460.16,561.41 461.21,569.82 462.46,594.21 463.16,663.29 463.79,724.38 464.97,651.57 465.88,592.12 467.06,576.3 468.04,561.12 469.53,552.83 473.09,552.83 474.1,560.49 475.14,574.51 476.4,593.58 477.09,646.14 477.72,725.63 478.9,650.32 479.81,597.18 480.99,572.71 481.97,565.01 483.46,554.59 487.03,554.59 488.03,561.99 489.08,571.12 490.33,595.09 491.03,646.97 491.66,725.21 492.84,650.32 493.75,600.78 494.93,576.3 495.91,564.09 497.4,550.61 500.96,550.61 501.97,564.09 503.01,581.7 504.27,593.92 504.96,657.01 505.59,726.05 506.77,660.36 507.68,601.62 508.86,573.79 509.84,564.09 511.33,552.83 514.9,552.83 515.9,561.12 516.95,574.51 518.2,590.28 518.9,657.85 519.53,726.89 520.71,652.41 521.62,597.18 522.8,573.08 523.78,560.78 525.27,553.71 528.83,553.71 529.84,561.12 530.88,572.2 532.14,590.7 532.83,661.2 533.46,725.63 534.64,655.76 535.55,593.92 536.73,572.5 537.71,566.22 539.2,555.72 542.77,555.72 543.77,563.79 544.82,572.71 546.07,593 546.77,656.6 547.4,726.89 548.58,651.16 549.49,602.62 550.67,574.88 551.65,562.29 553.14,556.01 556.7,556.01 557.71,566.51 558.75,572.92 560.01,594.21 560.7,655.76 561.33,727.3 562.51,659.11 563.42,604.42 564.6,573.08 565.58,563.79 567.07,550.32 570.64,550.32 571.64,561.7 572.69,570.91 573.94,588.02 574.64,649.48 575.27,724.38 576.45,661.2 577.36,600.49 578.54,571.99 579.52,563.79 581.01,548.98 584.57,548.98 585.58,560.78 586.62,572.71 587.88,592.5 588.57,656.6 589.2,725.63 590.38,656.6 591.29,599.32 592.47,575.22 593.45,563.79 594.94,553 598.51,553 599.51,558.4 600.56,567.39 601.81,586.39 602.51,655.76 603.14,726.89 604.32,657.85 605.23,600.19 606.41,577.18 607.39,562.92 608.88,553.71 612.44,553.71 613.45,562.92 614.49,574 615.75,589.11 616.44,654.5 617.07,726.05 618.25,645.72 619.16,596.6 620.34,571.62 621.32,565.3 622.81,550.32 626.38,550.32 627.38,560.49 628.43,574 629.68,594.8 630.38,654.5 631.01,730.23 632.19,650.32 633.1,600.61 634.28,573.79 635.26,560.78 636.75,550.99 640.31,550.99 641.32,564.71 642.36,573.08 643.62,595.09 644.31,654.92 644.94,726.05 646.12,661.62 647.03,603.79 648.21,574.71 649.19,560.49 650.68,547.18 654.25,547.18 655.25,563.79 656.3,571.99 657.55,592.12 658.25,655.76 658.88,728.14 660.06,659.11 660.97,599.69 662.15,574.51 663.13,565.01 664.62,548.48 666.4,548.48"/>
<circle cx="387.7" cy="550.99" r="3.2" fill="#fff"/>
<circle cx="388.68" cy="550.99" r="3.2" fill="#fff"/>
<circle cx="390.49" cy="558.69" r="3.2" fill="#fff"/>
<circle cx="391.53" cy="567.69" r="3.2" fill="#fff"/>
<circle cx="392.79" cy="588.19" r="3.2" fill="#fff"/>
<circle cx="393.48" cy="647.31" r="3.2" fill="#fff"/>
<circle cx="394.11" cy="723.54" r="3.2" fill="#fff"/>
<circle cx="395.29" cy="660.19" r="3.2" fill="#fff"/>
<circle cx="396.2" cy="598.1" r="3.2" fill="#fff"/>
<circle cx="397.38" cy="585.8" r="3.2" fill="#fff"/>
<circle cx="398.36" cy="560.99" r="3.2" fill="#fff"/>
<circle cx="399.85" cy="550.99" r="3.2" fill="#fff"/>
<circle cx="403.42" cy="550.99" r="3.2" fill="#fff"/>
<circle cx="404.42" cy="563.5" r="3.2" fill="#fff"/>
<circle cx="405.47" cy="568.19" r="3.2" fill="#fff"/>
<circle cx="406.72" cy="590.91" r="3.2" fill="#fff"/>
<circle cx="407.42" cy="646.01" r="3.2" fill="#fff"/>
<circle cx="408.05" cy="721.87" r="3.2" fill="#fff"/>
<circle cx="409.23" cy="655.51" r="3.2" fill="#fff"/>
<circle cx="410.14" cy="603.42" r="3.2" fill="#fff"/>
<circle cx="411.32" cy="578.52" r="3.2" fill="#fff"/>
<circle cx="412.3" cy="562.79" r="3.2" fill="#fff"/>
<circle cx="413.79" cy="554.59" r="3.2" fill="#fff"/>
<circle cx="417.35" cy="554.59" r="3.2" fill="#fff"/>
<circle cx="418.36" cy="563.71" r="3.2" fill="#fff"/>
<circle cx="419.4" cy="574" r="3.2" fill="#fff"/>
<circle cx="420.66" cy="594.21" r="3.2" fill="#fff"/>
<circle cx="421.35" cy="647.64" r="3.2" fill="#fff"/>
<circle cx="421.98" cy="725.21" r="3.2" fill="#fff"/>
<circle cx="423.16" cy="659.94" r="3.2" fill="#fff"/>
<circle cx="424.07" cy="601.99" r="3.2" fill="#fff"/>
<circle cx="425.25" cy="574.88" r="3.2" fill="#fff"/>
<circle cx="426.23" cy="567.69" r="3.2" fill="#fff"/>
<circle cx="427.72" cy="556.39" r="3.2" fill="#fff"/>
<circle cx="431.29" cy="556.39" r="3.2" fill="#fff"/>
<circle cx="432.29" cy="561.7" r="3.2" fill="#fff"/>
<circle cx="433.34" cy="570.4" r="3.2" fill="#fff"/>
<circle cx="434.59" cy="594.8" r="3.2" fill="#fff"/>
<circle cx="435.29" cy="657.72" r="3.2" fill="#fff"/>
<circle cx="435.92" cy="725.21" r="3.2" fill="#fff"/>
<circle cx="437.1" cy="666.72" r="3.2" fill="#fff"/>
<circle cx="438.01" cy="600.61" r="3.2" fill="#fff"/>
<circle cx="439.19" cy="567.69" r="3.2" fill="#fff"/>
<circle cx="440.17" cy="564.59" r="3.2" fill="#fff"/>
<circle cx="441.66" cy="557.81" r="3.2" fill="#fff"/>
<circle cx="445.22" cy="557.81" r="3.2" fill="#fff"/>
<circle cx="446.23" cy="562.79" r="3.2" fill="#fff"/>
<circle cx="447.27" cy="576.1" r="3.2" fill="#fff"/>
<circle cx="448.53" cy="593.92" r="3.2" fill="#fff"/>
<circle cx="449.22" cy="657.01" r="3.2" fill="#fff"/>
<circle cx="449.85" cy="728.98" r="3.2" fill="#fff"/>
<circle cx="451.03" cy="653.25" r="3.2" fill="#fff"/>
<circle cx="451.94" cy="603.42" r="3.2" fill="#fff"/>
<circle cx="453.12" cy="575.22" r="3.2" fill="#fff"/>
<circle cx="454.1" cy="560.49" r="3.2" fill="#fff"/>
<circle cx="455.59" cy="554.59" r="3.2" fill="#fff"/>
<circle cx="459.16" cy="554.59" r="3.2" fill="#fff"/>
<circle cx="460.16" cy="561.41" r="3.2" fill="#fff"/>
<circle cx="461.21" cy="569.82" r="3.2" fill="#fff"/>
<circle cx="462.46" cy="594.21" r="3.2" fill="#fff"/>
<circle cx="463.16" cy="663.29" r="3.2" fill="#fff"/>
<circle cx="463.79" cy="724.38" r="3.2" fill="#fff"/>
<circle cx="464.97" cy="651.57" r="3.2" fill="#fff"/>
<circle cx="465.88" cy="592.12" r="3.2" fill="#fff"/>
<circle cx="467.06" cy="576.3" r="3.2" fill="#fff"/>
<circle cx="468.04" cy="561.12" r="3.2" fill="#fff"/>
<circle cx="469.53" cy="552.83" r="3.2" fill="#fff"/>
<circle cx="473.09" cy="552.83" r="3.2" fill="#fff"/>
<circle cx="474.1" cy="560.49" r="3.2" fill="#fff"/>
<circle cx="475.14" cy="574.51" r="3.2" fill="#fff"/>
<circle cx="476.4" cy="593.58" r="3.2" fill="#fff"/>
<circle cx="477.09" cy="646.14" r="3.2" fill="#fff"/>
<circle cx="477.72" cy="725.63" r="3.2" fill="#fff"/>
<circle cx="478.9" cy="650.32" r="3.2" fill="#fff"/>
<circle cx="479.81" cy="597.18" r="3.2" fill="#fff"/>
<circle cx="480.99" cy="572.71" r="3.2" fill="#fff"/>
<circle cx="481.97" cy="565.01" r="3.2" fill="#fff"/>
<circle cx="483.46" cy="554.59" r="3.2" fill="#fff"/>
<circle cx="487.03" cy="554.59" r="3.2" fill="#fff"/>
<circle cx="488.03" cy="561.99" r="3.2" fill="#fff"/>
<circle cx="489.08" cy="571.12" r="3.2" fill="#fff"/>
<circle cx="490.33" cy="595.09" r="3.2" fill="#fff"/>
<circle cx="491.03" cy="646.97" r="3.2" fill="#fff"/>
<circle cx="491.66" cy="725.21" r="3.2" fill="#fff"/>
<circle cx="492.84" cy="650.32" r="3.2" fill="#fff"/>
<circle cx="493.75" cy="600.78" r="3.2" fill="#fff"/>
<circle cx="494.93" cy="576.3" r="3.2" fill="#fff"/>
<circle cx="495.91" cy="564.09" r="3.2" fill="#fff"/>
<circle cx="497.4" cy="550.61" r="3.2" fill="#fff"/>
<circle cx="500.96" cy="550.61" r="3.2" fill="#fff"/>
<circle cx="501.97" cy="564.09" r="3.2" fill="#fff"/>
<circle cx="503.01" cy="581.7" r="3.2" fill="#fff"/>
<circle cx="504.27" cy="593.92" r="3.2" fill="#fff"/>
<circle cx="504.96" cy="657.01" r="3.2" fill="#fff"/>
<circle cx="505.59" cy="726.05" r="3.2" fill="#fff"/>
<circle cx="506.77" cy="660.36" r="3.2" fill="#fff"/>
<circle cx="507.68" cy="601.62" r="3.2" fill="#fff"/>
<circle cx="508.86" cy="573.79" r="3.2" fill="#fff"/>
<circle cx="509.84" cy="564.09" r="3.2" fill="#fff"/>
<circle cx="511.33" cy="552.83" r="3.2" fill="#fff"/>
<circle cx="514.9" cy="552.83" r="3.2" fill="#fff"/>
<circle cx="515.9" cy="561.12" r="3.2" fill="#fff"/>
<circle cx="516.95" cy="574.51" r="3.2" fill="#fff"/>
<circle cx="518.2" cy="590.28" r="3.2" fill="#fff"/>
<circle cx="518.9" cy="657.85" r="3.2" fill="#fff"/>
<circle cx="519.53" cy="726.89" r="3.2" fill="#fff"/>
<circle cx="520.71" cy="652.41" r="3.2" fill="#fff"/>
<circle cx="521.62" cy="597.18" r="3.2" fill="#fff"/>
<circle cx="522.8" cy="573.08" r="3.2" fill="#fff"/>
<circle cx="523.78" cy="560.78" r="3.2" fill="#fff"/>
<circle cx="525.27" cy="553.71" r="3.2" fill="#fff"/>
<circle cx="528.83" cy="553.71" r="3.2" fill="#fff"/>
<circle cx="529.84" cy="561.12" r="3.2" fill="#fff"/>
<circle cx="530.88" cy="572.2" r="3.2" fill="#fff"/>
<circle cx="532.14" cy="590.7" r="3.2" fill="#fff"/>
<circle cx="532.83" cy="661.2" r="3.2" fill="#fff"/>
<circle cx="533.46" cy="725.63" r="3.2" fill="#fff"/>
<circle cx="534.64" cy="655.76" r="3.2" fill="#fff"/>
<circle cx="535.55" cy="593.92" r="3.2" fill="#fff"/>
<circle cx="536.73" cy="572.5" r="3.2" fill="#fff"/>
<circle cx="537.71" cy="566.22" r="3.2" fill="#fff"/>
<circle cx="539.2" cy="555.72" r="3.2" fill="#fff"/>
<circle cx="542.77" cy="555.72" r="3.2" fill="#fff"/>
<circle cx="543.77" cy="563.79" r="3.2" fill="#fff"/>
<circle cx="544.82" cy="572.71" r="3.2" fill="#fff"/>
<circle cx="546.07" cy="593" r="3.2" fill="#fff"/>
<circle cx="546.77" cy="656.6" r="3.2" fill="#fff"/>
<circle cx="547.4" cy="726.89" r="3.2" fill="#fff"/>
<circle cx="548.58" cy="651.16" r="3.2" fill="#fff"/>
<circle cx="549.49" cy="602.62" r="3.2" fill="#fff"/>
<circle cx="550.67" cy="574.88" r="3.2" fill="#fff"/>
<circle cx="551.65" cy="562.29" r="3.2" fill="#fff"/>
<circle cx="553.14" cy="556.01" r="3.2" fill="#fff"/>
<circle cx="556.7" cy="556.01" r="3.2" fill="#fff"/>
<circle cx="557.71" cy="566.51" r="3.2" fill="#fff"/>
<circle cx="558.75" cy="572.92" r="3.2" fill="#fff"/>
<circle cx="560.01" cy="594.21" r="3.2" fill="#fff"/>
<circle cx="560.7" cy="655.76" r="3.2" fill="#fff"/>
<circle cx="561.33" cy="727.3" r="3.2" fill="#fff"/>
<circle cx="562.51" cy="659.11" r="3.2" fill="#fff"/>
<circle cx="563.42" cy="604.42" r="3.2" fill="#fff"/>
<circle cx="564.6" cy="573.08" r="3.2" fill="#fff"/>
<circle cx="565.58" cy="563.79" r="3.2" fill="#fff"/>
<circle cx="567.07" cy="550.32" r="3.2" fill="#fff"/>
<circle cx="570.64" cy="550.32" r="3.2" fill="#fff"/>
<circle cx="571.64" cy="561.7" r="3.2" fill="#fff"/>
<circle cx="572.69" cy="570.91" r="3.2" fill="#fff"/>
<circle cx="573.94" cy="588.02" r="3.2" fill="#fff"/>
<circle cx="574.64" cy="649.48" r="3.2" fill="#fff"/>
<circle cx="575.27" cy="724.38" r="3.2" fill="#fff"/>
<circle cx="576.45" cy="661.2" r="3.2" fill="#fff"/>
<circle cx="577.36" cy="600.49" r="3.2" fill="#fff"/>
<circle cx="578.54" cy="571.99" r="3.2" fill="#fff"/>
<circle cx="579.52" cy="563.79" r="3.2" fill="#fff"/>
<circle cx="581.01" cy="548.98" r="3.2" fill="#fff"/>
<circle cx="584.57" cy="548.98" r="3.2" fill="#fff"/>
<circle cx="585.58" cy="560.78" r="3.2" fill="#fff"/>
<circle cx="586.62" cy="572.71" r="3.2" fill="#fff"/>
<circle cx="587.88" cy="592.5" r="3.2" fill="#fff"/>
<circle cx="588.57" cy="656.6" r="3.2" fill="#fff"/>
<circle cx="589.2" cy="725.63" r="3.2" fill="#fff"/>
<circle cx="590.38" cy="656.6" r="3.2" fill="#fff"/>
<circle cx="591.29" cy="599.32" r="3.2" fill="#fff"/>
<circle cx="592.47" cy="575.22" r="3.2" fill="#fff"/>
<circle cx="593.45" cy="563.79" r="3.2" fill="#fff"/>
<circle cx="594.94" cy="553" r="3.2" fill="#fff"/>
<circle cx="598.51" cy="553" r="3.2" fill="#fff"/>
<circle cx="599.51" cy="558.4" r="3.2" fill="#fff"/>
<circle cx="600.56" cy="567.39" r="3.2" fill="#fff"/>
<circle cx="601.81" cy="586.39" r="3.2" fill="#fff"/>
<circle cx="602.51" cy="655.76" r="3.2" fill="#fff"/>
<circle cx="603.14" cy="726.89" r="3.2" fill="#fff"/>
<circle cx="604.32" cy="657.85" r="3.2" fill="#fff"/>
<circle cx="605.23" cy="600.19" r="3.2" fill="#fff"/>
<circle cx="606.41" cy="577.18" r="3.2" fill="#fff"/>
<circle cx="607.39" cy="562.92" r="3.2" fill="#fff"/>
<circle cx="608.88" cy="553.71" r="3.2" fill="#fff"/>
<circle cx="612.44" cy="553.71" r="3.2" fill="#fff"/>
<circle cx="613.45" cy="562.92" r="3.2" fill="#fff"/>
<circle cx="614.49" cy="574" r="3.2" fill="#fff"/>
<circle cx="615.75" cy="589.11" r="3.2" fill="#fff"/>
<circle cx="616.44" cy="654.5" r="3.2" fill="#fff"/>
<circle cx="617.07" cy="726.05" r="3.2" fill="#fff"/>
<circle cx="618.25" cy="645.72" r="3.2" fill="#fff"/>
<circle cx="619.16" cy="596.6" r="3.2" fill="#fff"/>
<circle cx="620.34" cy="571.62" r="3.2" fill="#fff"/>
<circle cx="621.32" cy="565.3" r="3.2" fill="#fff"/>
<circle cx="622.81" cy="550.32" r="3.2" fill="#fff"/>
<circle cx="626.38" cy="550.32" r="3.2" fill="#fff"/>
<circle cx="627.38" cy="560.49" r="3.2" fill="#fff"/>
<circle cx="628.43" cy="574" r="3.2" fill="#fff"/>
<circle cx="629.68" cy="594.8" r="3.2" fill="#fff"/>
<circle cx="630.38" cy="654.5" r="3.2" fill="#fff"/>
<circle cx="631.01" cy="730.23" r="3.2" fill="#fff"/>
<circle cx="632.19" cy="650.32" r="3.2" fill="#fff"/>
<circle cx="633.1" cy="600.61" r="3.2" fill="#fff"/>
<circle cx="634.28" cy="573.79" r="3.2" fill="#fff"/>
<circle cx="635.26" cy="560.78" r="3.2" fill="#fff"/>
<circle cx="636.75" cy="550.99" r="3.2" fill="#fff"/>
<circle cx="640.31" cy="550.99" r="3.2" fill="#fff"/>
<circle cx="641.32" cy="564.71" r="3.2" fill="#fff"/>
<circle cx="642.36" cy="573.08" r="3.2" fill="#fff"/>
<circle cx="643.62" cy="595.09" r="3.2" fill="#fff"/>
<circle cx="644.31" cy="654.92" r="3.2" fill="#fff"/>
<circle cx="644.94" cy="726.05" r="3.2" fill="#fff"/>
<circle cx="646.12" cy="661.62" r="3.2" fill="#fff"/>
<circle cx="647.03" cy="603.79" r="3.2" fill="#fff"/>
<circle cx="648.21" cy="574.71" r="3.2" fill="#fff"/>
<circle cx="649.19" cy="560.49" r="3.2" fill="#fff"/>
<circle cx="650.68" cy="547.18" r="3.2" fill="#fff"/>
<circle cx="654.25" cy="547.18" r="3.2" fill="#fff"/>
<circle cx="655.25" cy="563.79" r="3.2" fill="#fff"/>
<circle cx="656.3" cy="571.99" r="3.2" fill="#fff"/>
<circle cx="657.55" cy="592.12" r="3.2" fill="#fff"/>
<circle cx="658.25" cy="655.76" r="3.2" fill="#fff"/>
<circle cx="658.88" cy="728.14" r="3.2" fill="#fff"/>
<circle cx="660.06" cy="659.11" r="3.2" fill="#fff"/>
<circle cx="660.97" cy="599.69" r="3.2" fill="#fff"/>
<circle cx="662.15" cy="574.51" r="3.2" fill="#fff"/>
<circle cx="663.13" cy="565.01" r="3.2" fill="#fff"/>
<circle cx="664.62" cy="548.48" r="3.2" fill="#fff"/>
<circle cx="666.4" cy="548.48" r="3.2" fill="#fff"/>
<circle cx="387.7" cy="550.99" r="2.4" fill="url(#sph)"/>
<circle cx="388.68" cy="550.99" r="2.4" fill="url(#sph)"/>
<circle cx="390.49" cy="558.69" r="2.4" fill="url(#sph)"/>
<circle cx="391.53" cy="567.69" r="2.4" fill="url(#sph)"/>
<circle cx="392.79" cy="588.19" r="2.4" fill="url(#sph)"/>
<circle cx="393.48" cy="647.31" r="2.4" fill="url(#sph)"/>
<circle cx="394.11" cy="723.54" r="2.4" fill="url(#sph)"/>
<circle cx="395.29" cy="660.19" r="2.4" fill="url(#sph)"/>
<circle cx="396.2" cy="598.1" r="2.4" fill="url(#sph)"/>
<circle cx="397.38" cy="585.8" r="2.4" fill="url(#sph)"/>
<circle cx="398.36" cy="560.99" r="2.4" fill="url(#sph)"/>
<circle cx="399.85" cy="550.99" r="2.4" fill="url(#sph)"/>
<circle cx="403.42" cy="550.99" r="2.4" fill="url(#sph)"/>
<circle cx="404.42" cy="563.5" r="2.4" fill="url(#sph)"/>
<circle cx="405.47" cy="568.19" r="2.4" fill="url(#sph)"/>
<circle cx="406.72" cy="590.91" r="2.4" fill="url(#sph)"/>
<circle cx="407.42" cy="646.01" r="2.4" fill="url(#sph)"/>
<circle cx="408.05" cy="721.87" r="2.4" fill="url(#sph)"/>
<circle cx="409.23" cy="655.51" r="2.4" fill="url(#sph)"/>
<circle cx="410.14" cy="603.42" r="2.4" fill="url(#sph)"/>
<circle cx="411.32" cy="578.52" r="2.4" fill="url(#sph)"/>
<circle cx="412.3" cy="562.79" r="2.4" fill="url(#sph)"/>
<circle cx="413.79" cy="554.59" r="2.4" fill="url(#sph)"/>
<circle cx="417.35" cy="554.59" r="2.4" fill="url(#sph)"/>
<circle cx="418.36" cy="563.71" r="2.4" fill="url(#sph)"/>
<circle cx="419.4" cy="574" r="2.4" fill="url(#sph)"/>
<circle cx="420.66" cy="594.21" r="2.4" fill="url(#sph)"/>
<circle cx="421.35" cy="647.64" r="2.4" fill="url(#sph)"/>
<circle cx="421.98" cy="725.21" r="2.4" fill="url(#sph)"/>
<circle cx="423.16" cy="659.94" r="2.4" fill="url(#sph)"/>
<circle cx="424.07" cy="601.99" r="2.4" fill="url(#sph)"/>
<circle cx="425.25" cy="574.88" r="2.4" fill="url(#sph)"/>
<circle cx="426.23" cy="567.69" r="2.4" fill="url(#sph)"/>
<circle cx="427.72" cy="556.39" r="2.4" fill="url(#sph)"/>
<circle cx="431.29" cy="556.39" r="2.4" fill="url(#sph)"/>
<circle cx="432.29" cy="561.7" r="2.4" fill="url(#sph)"/>
<circle cx="433.34" cy="570.4" r="2.4" fill="url(#sph)"/>
<circle cx="434.59" cy="594.8" r="2.4" fill="url(#sph)"/>
<circle cx="435.29" cy="657.72" r="2.4" fill="url(#sph)"/>
<circle cx="435.92" cy="725.21" r="2.4" fill="url(#sph)"/>
<circle cx="437.1" cy="666.72" r="2.4" fill="url(#sph)"/>
<circle cx="438.01" cy="600.61" r="2.4" fill="url(#sph)"/>
<circle cx="439.19" cy="567.69" r="2.4" fill="url(#sph)"/>
<circle cx="440.17" cy="564.59" r="2.4" fill="url(#sph)"/>
<circle cx="441.66" cy="557.81" r="2.4" fill="url(#sph)"/>
<circle cx="445.22" cy="557.81" r="2.4" fill="url(#sph)"/>
<circle cx="446.23" cy="562.79" r="2.4" fill="url(#sph)"/>
<circle cx="447.27" cy="576.1" r="2.4" fill="url(#sph)"/>
<circle cx="448.53" cy="593.92" r="2.4" fill="url(#sph)"/>
<circle cx="449.22" cy="657.01" r="2.4" fill="url(#sph)"/>
<circle cx="449.85" cy="728.98" r="2.4" fill="url(#sph)"/>
<circle cx="451.03" cy="653.25" r="2.4" fill="url(#sph)"/>
<circle cx="451.94" cy="603.42" r="2.4" fill="url(#sph)"/>
<circle cx="453.12" cy="575.22" r="2.4" fill="url(#sph)"/>
<circle cx="454.1" cy="560.49" r="2.4" fill="url(#sph)"/>
<circle cx="455.59" cy="554.59" r="2.4" fill="url(#sph)"/>
<circle cx="459.16" cy="554.59" r="2.4" fill="url(#sph)"/>
<circle cx="460.16" cy="561.41" r="2.4" fill="url(#sph)"/>
<circle cx="461.21" cy="569.82" r="2.4" fill="url(#sph)"/>
<circle cx="462.46" cy="594.21" r="2.4" fill="url(#sph)"/>
<circle cx="463.16" cy="663.29" r="2.4" fill="url(#sph)"/>
<circle cx="463.79" cy="724.38" r="2.4" fill="url(#sph)"/>
<circle cx="464.97" cy="651.57" r="2.4" fill="url(#sph)"/>
<circle cx="465.88" cy="592.12" r="2.4" fill="url(#sph)"/>
<circle cx="467.06" cy="576.3" r="2.4" fill="url(#sph)"/>
<circle cx="468.04" cy="561.12" r="2.4" fill="url(#sph)"/>
<circle cx="469.53" cy="552.83" r="2.4" fill="url(#sph)"/>
<circle cx="473.09" cy="552.83" r="2.4" fill="url(#sph)"/>
<circle cx="474.1" cy="560.49" r="2.4" fill="url(#sph)"/>
<circle cx="475.14" cy="574.51" r="2.4" fill="url(#sph)"/>
<circle cx="476.4" cy="593.58" r="2.4" fill="url(#sph)"/>
<circle cx="477.09" cy="646.14" r="2.4" fill="url(#sph)"/>
<circle cx="477.72" cy="725.63" r="2.4" fill="url(#sph)"/>
<circle cx="478.9" cy="650.32" r="2.4" fill="url(#sph)"/>
<circle cx="479.81" cy="597.18" r="2.4" fill="url(#sph)"/>
<circle cx="480.99" cy="572.71" r="2.4" fill="url(#sph)"/>
<circle cx="481.97" cy="565.01" r="2.4" fill="url(#sph)"/>
<circle cx="483.46" cy="554.59" r="2.4" fill="url(#sph)"/>
<circle cx="487.03" cy="554.59" r="2.4" fill="url(#sph)"/>
<circle cx="488.03" cy="561.99" r="2.4" fill="url(#sph)"/>
<circle cx="489.08" cy="571.12" r="2.4" fill="url(#sph)"/>
<circle cx="490.33" cy="595.09" r="2.4" fill="url(#sph)"/>
<circle cx="491.03" cy="646.97" r="2.4" fill="url(#sph)"/>
<circle cx="491.66" cy="725.21" r="2.4" fill="url(#sph)"/>
<circle cx="492.84" cy="650.32" r="2.4" fill="url(#sph)"/>
<circle cx="493.75" cy="600.78" r="2.4" fill="url(#sph)"/>
<circle cx="494.93" cy="576.3" r="2.4" fill="url(#sph)"/>
<circle cx="495.91" cy="564.09" r="2.4" fill="url(#sph)"/>
<circle cx="497.4" cy="550.61" r="2.4" fill="url(#sph)"/>
<circle cx="500.96" cy="550.61" r="2.4" fill="url(#sph)"/>
<circle cx="501.97" cy="564.09" r="2.4" fill="url(#sph)"/>
<circle cx="503.01" cy="581.7" r="2.4" fill="url(#sph)"/>
<circle cx="504.27" cy="593.92" r="2.4" fill="url(#sph)"/>
<circle cx="504.96" cy="657.01" r="2.4" fill="url(#sph)"/>
<circle cx="505.59" cy="726.05" r="2.4" fill="url(#sph)"/>
<circle cx="506.77" cy="660.36" r="2.4" fill="url(#sph)"/>
<circle cx="507.68" cy="601.62" r="2.4" fill="url(#sph)"/>
<circle cx="508.86" cy="573.79" r="2.4" fill="url(#sph)"/>
<circle cx="509.84" cy="564.09" r="2.4" fill="url(#sph)"/>
<circle cx="511.33" cy="552.83" r="2.4" fill="url(#sph)"/>
<circle cx="514.9" cy="552.83" r="2.4" fill="url(#sph)"/>
<circle cx="515.9" cy="561.12" r="2.4" fill="url(#sph)"/>
<circle cx="516.95" cy="574.51" r="2.4" fill="url(#sph)"/>
<circle cx="518.2" cy="590.28" r="2.4" fill="url(#sph)"/>
<circle cx="518.9" cy="657.85" r="2.4" fill="url(#sph)"/>
<circle cx="519.53" cy="726.89" r="2.4" fill="url(#sph)"/>
<circle cx="520.71" cy="652.41" r="2.4" fill="url(#sph)"/>
<circle cx="521.62" cy="597.18" r="2.4" fill="url(#sph)"/>
<circle cx="522.8" cy="573.08" r="2.4" fill="url(#sph)"/>
<circle cx="523.78" cy="560.78" r="2.4" fill="url(#sph)"/>
<circle cx="525.27" cy="553.71" r="2.4" fill="url(#sph)"/>
<circle cx="528.83" cy="553.71" r="2.4" fill="url(#sph)"/>
<circle cx="529.84" cy="561.12" r="2.4" fill="url(#sph)"/>
<circle cx="530.88" cy="572.2" r="2.4" fill="url(#sph)"/>
<circle cx="532.14" cy="590.7" r="2.4" fill="url(#sph)"/>
<circle cx="532.83" cy="661.2" r="2.4" fill="url(#sph)"/>
<circle cx="533.46" cy="725.63" r="2.4" fill="url(#sph)"/>
<circle cx="534.64" cy="655.76" r="2.4" fill="url(#sph)"/>
<circle cx="535.55" cy="593.92" r="2.4" fill="url(#sph)"/>
<circle cx="536.73" cy="572.5" r="2.4" fill="url(#sph)"/>
<circle cx="537.71" cy="566.22" r="2.4" fill="url(#sph)"/>
<circle cx="539.2" cy="555.72" r="2.4" fill="url(#sph)"/>
<circle cx="542.77" cy="555.72" r="2.4" fill="url(#sph)"/>
<circle cx="543.77" cy="563.79" r="2.4" fill="url(#sph)"/>
<circle cx="544.82" cy="572.71" r="2.4" fill="url(#sph)"/>
<circle cx="546.07" cy="593" r="2.4" fill="url(#sph)"/>
<circle cx="546.77" cy="656.6" r="2.4" fill="url(#sph)"/>
<circle cx="547.4" cy="726.89" r="2.4" fill="url(#sph)"/>
<circle cx="548.58" cy="651.16" r="2.4" fill="url(#sph)"/>
<circle cx="549.49" cy="602.62" r="2.4" fill="url(#sph)"/>
<circle cx="550.67" cy="574.88" r="2.4" fill="url(#sph)"/>
<circle cx="551.65" cy="562.29" r="2.4" fill="url(#sph)"/>
<circle cx="553.14" cy="556.01" r="2.4" fill="url(#sph)"/>
<circle cx="556.7" cy="556.01" r="2.4" fill="url(#sph)"/>
<circle cx="557.71" cy="566.51" r="2.4" fill="url(#sph)"/>
<circle cx="558.75" cy="572.92" r="2.4" fill="url(#sph)"/>
<circle cx="560.01" cy="594.21" r="2.4" fill="url(#sph)"/>
<circle cx="560.7" cy="655.76" r="2.4" fill="url(#sph)"/>
<circle cx="561.33" cy="727.3" r="2.4" fill="url(#sph)"/>
<circle cx="562.51" cy="659.11" r="2.4" fill="url(#sph)"/>
<circle cx="563.42" cy="604.42" r="2.4" fill="url(#sph)"/>
<circle cx="564.6" cy="573.08" r="2.4" fill="url(#sph)"/>
<circle cx="565.58" cy="563.79" r="2.4" fill="url(#sph)"/>
<circle cx="567.07" cy="550.32" r="2.4" fill="url(#sph)"/>
<circle cx="570.64" cy="550.32" r="2.4" fill="url(#sph)"/>
<circle cx="571.64" cy="561.7" r="2.4" fill="url(#sph)"/>
<circle cx="572.69" cy="570.91" r="2.4" fill="url(#sph)"/>
<circle cx="573.94" cy="588.02" r="2.4" fill="url(#sph)"/>
<circle cx="574.64" cy="649.48" r="2.4" fill="url(#sph)"/>
<circle cx="575.27" cy="724.38" r="2.4" fill="url(#sph)"/>
<circle cx="576.45" cy="661.2" r="2.4" fill="url(#sph)"/>
<circle cx="577.36" cy="600.49" r="2.4" fill="url(#sph)"/>
<circle cx="578.54" cy="571.99" r="2.4" fill="url(#sph)"/>
<circle cx="579.52" cy="563.79" r="2.4" fill="url(#sph)"/>
<circle cx="581.01" cy="548.98" r="2.4" fill="url(#sph)"/>
<circle cx="584.57" cy="548.98" r="2.4" fill="url(#sph)"/>
<circle cx="585.58" cy="560.78" r="2.4" fill="url(#sph)"/>
<circle cx="586.62" cy="572.71" r="2.4" fill="url(#sph)"/>
<circle cx="587.88" cy="592.5" r="2.4" fill="url(#sph)"/>
<circle cx="588.57" cy="656.6" r="2.4" fill="url(#sph)"/>
<circle cx="589.2" cy="725.63" r="2.4" fill="url(#sph)"/>
<circle cx="590.38" cy="656.6" r="2.4" fill="url(#sph)"/>
<circle cx="591.29" cy="599.32" r="2.4" fill="url(#sph)"/>
<circle cx="592.47" cy="575.22" r="2.4" fill="url(#sph)"/>
<circle cx="593.45" cy="563.79" r="2.4" fill="url(#sph)"/>
<circle cx="594.94" cy="553" r="2.4" fill="url(#sph)"/>
<circle cx="598.51" cy="553" r="2.4" fill="url(#sph)"/>
<circle cx="599.51" cy="558.4" r="2.4" fill="url(#sph)"/>
<circle cx="600.56" cy="567.39" r="2.4" fill="url(#sph)"/>
<circle cx="601.81" cy="586.39" r="2.4" fill="url(#sph)"/>
<circle cx="602.51" cy="655.76" r="2.4" fill="url(#sph)"/>
<circle cx="603.14" cy="726.89" r="2.4" fill="url(#sph)"/>
<circle cx="604.32" cy="657.85" r="2.4" fill="url(#sph)"/>
<circle cx="605.23" cy="600.19" r="2.4" fill="url(#sph)"/>
<circle cx="606.41" cy="577.18" r="2.4" fill="url(#sph)"/>
<circle cx="607.39" cy="562.92" r="2.4" fill="url(#sph)"/>
<circle cx="608.88" cy="553.71" r="2.4" fill="url(#sph)"/>
<circle cx="612.44" cy="553.71" r="2.4" fill="url(#sph)"/>
<circle cx="613.45" cy="562.92" r="2.4" fill="url(#sph)"/>
<circle cx="614.49" cy="574" r="2.4" fill="url(#sph)"/>
<circle cx="615.75" cy="589.11" r="2.4" fill="url(#sph)"/>
<circle cx="616.44" cy="654.5" r="2.4" fill="url(#sph)"/>
<circle cx="617.07" cy="726.05" r="2.4" fill="url(#sph)"/>
<circle cx="618.25" cy="645.72" r="2.4" fill="url(#sph)"/>
<circle cx="619.16" cy="596.6" r="2.4" fill="url(#sph)"/>
<circle cx="620.34" cy="571.62" r="2.4" fill="url(#sph)"/>
<circle cx="621.32" cy="565.3" r="2.4" fill="url(#sph)"/>
<circle cx="622.81" cy="550.32" r="2.4" fill="url(#sph)"/>
<circle cx="626.38" cy="550.32" r="2.4" fill="url(#sph)"/>
<circle cx="627.38" cy="560.49" r="2.4" fill="url(#sph)"/>
<circle cx="628.43" cy="574" r="2.4" fill="url(#sph)"/>
<circle cx="629.68" cy="594.8" r="2.4" fill="url(#sph)"/>
<circle cx="630.38" cy="654.5" r="2.4" fill="url(#sph)"/>
<circle cx="631.01" cy="730.23" r="2.4" fill="url(#sph)"/>
<circle cx="632.19" cy="650.32" r="2.4" fill="url(#sph)"/>
<circle cx="633.1" cy="600.61" r="2.4" fill="url(#sph)"/>
<circle cx="634.28" cy="573.79" r="2.4" fill="url(#sph)"/>
<circle cx="635.26" cy="560.78" r="2.4" fill="url(#sph)"/>
<circle cx="636.75" cy="550.99" r="2.4" fill="url(#sph)"/>
<circle cx="640.31" cy="550.99" r="2.4" fill="url(#sph)"/>
<circle cx="641.32" cy="564.71" r="2.4" fill="url(#sph)"/>
<circle cx="642.36" cy="573.08" r="2.4" fill="url(#sph)"/>
<circle cx="643.62" cy="595.09" r="2.4" fill="url(#sph)"/>
<circle cx="644.31" cy="654.92" r="2.4" fill="url(#sph)"/>
<circle cx="644.94" cy="726.05" r="2.4" fill="url(#sph)"/>
<circle cx="646.12" cy="661.62" r="2.4" fill="url(#sph)"/>
<circle cx="647.03" cy="603.79" r="2.4" fill="url(#sph)"/>
<circle cx="648.21" cy="574.71" r="2.4" fill="url(#sph)"/>
<circle cx="649.19" cy="560.49" r="2.4" fill="url(#sph)"/>
<circle cx="650.68" cy="547.18" r="2.4" fill="url(#sph)"/>
<circle cx="654.25" cy="547.18" r="2.4" fill="url(#sph)"/>
<circle cx="655.25" cy="563.79" r="2.4" fill="url(#sph)"/>
<circle cx="656.3" cy="571.99" r="2.4" fill="url(#sph)"/>
<circle cx="657.55" cy="592.12" r="2.4" fill="url(#sph)"/>
<circle cx="658.25" cy="655.76" r="2.4" fill="url(#sph)"/>
<circle cx="658.88" cy="728.14" r="2.4" fill="url(#sph)"/>
<circle cx="660.06" cy="659.11" r="2.4" fill="url(#sph)"/>
<circle cx="660.97" cy="599.69" r="2.4" fill="url(#sph)"/>
<circle cx="662.15" cy="574.51" r="2.4" fill="url(#sph)"/>
<circle cx="663.13" cy="565.01" r="2.4" fill="url(#sph)"/>
<circle cx="664.62" cy="548.48" r="2.4" fill="url(#sph)"/>
<circle cx="666.4" cy="548.48" r="2.4" fill="url(#sph)"/>
<rect x="387.7" y="529.8" width="278.7" height="209.1" fill="none" stroke="#000" stroke-width="1.6" stroke-linejoin="round"/>
<text x="503.1" y="769.7" font-size="16.3" font-weight="bold" text-anchor="start" fill="#000"  textLength="46.6" lengthAdjust="spacing">Cycle</text>
<text transform="translate(350.4,717.6) rotate(-90)" x="0" y="0" font-size="17" font-weight="bold" textLength="141.8" lengthAdjust="spacing">Bending angle (&#176;)</text>
</svg></body></html>
